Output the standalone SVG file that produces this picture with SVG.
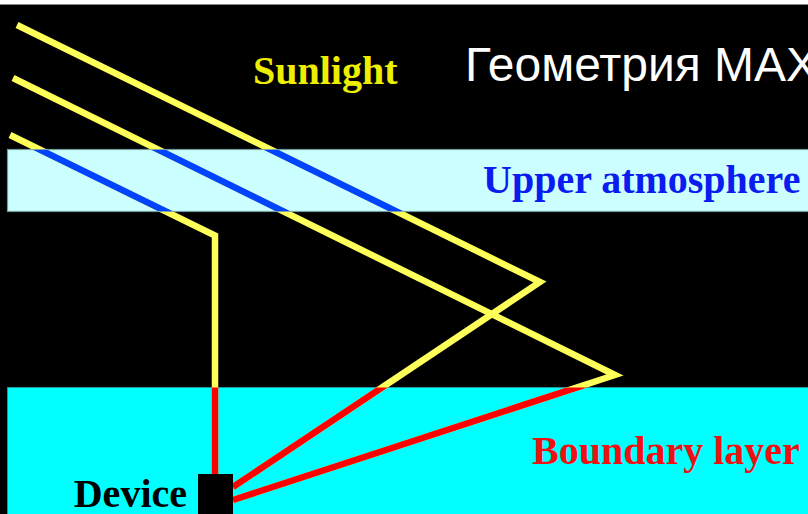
<svg xmlns="http://www.w3.org/2000/svg" width="808" height="514" viewBox="0 0 808 514">
<style>
.ray{fill:none;stroke-width:6.5;stroke-linejoin:miter;stroke-linecap:butt}
.y{stroke:#ffff5a}
.b{stroke:#0044ff}
.r{stroke:#ff0000}
.lbl{font-family:"Liberation Serif","Times New Roman",serif;font-weight:bold;font-size:40px}
</style>
<defs>
<clipPath id="cu"><rect x="7.5" y="149.5" width="801" height="62"/></clipPath>
<clipPath id="cb"><rect x="7" y="387.5" width="801" height="127"/></clipPath>
</defs>
<rect x="0" y="0" width="808" height="514" fill="#000"/>
<rect x="0" y="0" width="808" height="4.5" fill="#fff"/>
<line x1="0" y1="4.5" x2="808" y2="4.5" stroke="#888" stroke-width="1"/>
<g id="upper-atmosphere">
<rect x="7.5" y="149.5" width="802" height="62" fill="#ccffff" stroke="#6e9a9a" stroke-width="1.2"/>
<text class="lbl" x="483" y="193" fill="#0a1cf0">Upper atmosphere</text>
</g>
<g id="boundary-layer">
<rect x="7.5" y="387.5" width="802" height="130" fill="#00ffff" stroke="#1a9a9a" stroke-width="1"/>
<text class="lbl" x="532" y="464" fill="#ee1111">Boundary layer</text>
</g>
<g id="connectors">
<g class="ray y">
<polyline points="17,25 540,282 233,487"/>
<polyline points="13,78 615,375 233,500"/>
<polyline points="10,135 215,235.5 215,480"/>
</g>
<g class="ray b" clip-path="url(#cu)">
<polyline points="17,25 540,282"/>
<polyline points="13,78 615,375"/>
<polyline points="10,135 215,235.5"/>
</g>
<g class="ray r" clip-path="url(#cb)">
<polyline points="540,282 233,487"/>
<polyline points="615,375 233,500"/>
<polyline points="215,235.5 215,480"/>
</g>
</g>
<g id="sunlight">
<text class="lbl" x="253" y="84" fill="#eeee00">Sunlight</text>
</g>
<g id="title">
<text x="465" y="81" font-family="'Liberation Sans',Arial,sans-serif" font-size="48" fill="#fff">Геометрия MAX</text>
</g>
<g id="device">
<rect x="198" y="474" width="35" height="42" fill="#000"/>
<text class="lbl" x="187" y="507" text-anchor="end" fill="#000">Device</text>
</g>
</svg>
